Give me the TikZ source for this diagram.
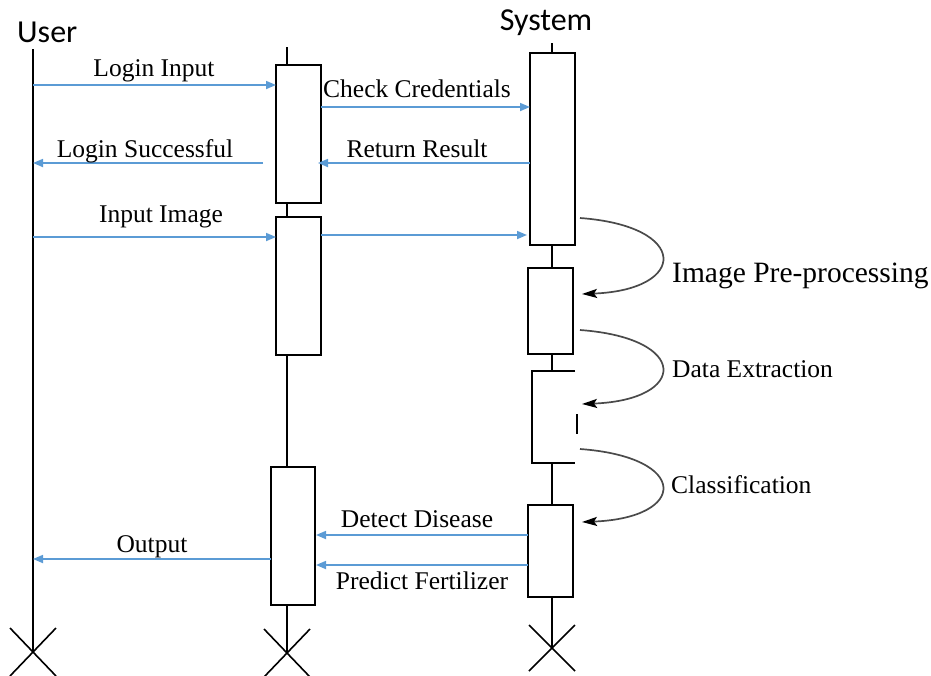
\documentclass[tikz,border=0pt]{standalone}
\usepackage{fontspec}
\setmainfont{Liberation Serif}
\newfontfamily\calibfont{Carlito}
\usetikzlibrary{arrows.meta,calc}
\definecolor{msgblue}{HTML}{5B9BD5}
\definecolor{loopgray}{HTML}{4A4A4A}
\begin{document}
\begin{tikzpicture}[x=1pt,y=-1pt,
  life/.style={black, line width=1.6pt},
  actbox/.style={draw=black, line width=1.6pt, fill=white, inner sep=0pt, outer sep=0pt, rectangle},
  msg/.style={msgblue, line width=1.7pt, -{Triangle[length=10pt,width=8pt]}},
  selfloop/.style={loopgray, line width=1.7pt, -{Stealth[length=15pt,width=9pt,inset=3pt,black]}},
  lbl/.style={font=\fontsize{25.5}{30}\selectfont, inner sep=0pt, anchor=base},
  sidelbl/.style={font=\fontsize{25.5}{30}\selectfont, inner sep=0pt, anchor=base west},
  actor/.style={font=\calibfont\fontsize{32}{38}\selectfont, inner sep=0pt},
  endx/.style={black, line width=1.6pt}
]
\useasboundingbox (0,0) rectangle (931,675);

% ---------- lifeline reference points ----------
\coordinate (utop) at (33,49);
\coordinate (uend) at (33,652);
\coordinate (mtop) at (287,47);
\coordinate (mend) at (287,653);
\coordinate (stop) at (552,43);
\coordinate (send) at (552,648);

% ---------- lifelines ----------
\draw[life] (utop) -- (uend);
\draw[life] (mtop) -- (mend);
\draw[life] (stop) -- (send);

% ---------- activation boxes ----------
\node[actbox, minimum width=45, minimum height=138] (m1) at (298.5,134) {};
\node[actbox, minimum width=45, minimum height=138] (m2) at (298.5,286) {};
\node[actbox, minimum width=44, minimum height=138] (m3) at (293,536) {};
\node[actbox, minimum width=45, minimum height=192] (s1) at (552.5,149) {};
\node[actbox, minimum width=45, minimum height=86] (s2) at (550.5,311) {};
\node[actbox, minimum width=45, minimum height=92] (s4) at (550.5,551) {};

% open bracket activation
\coordinate (s3tr) at (575,371);
\coordinate (s3tl) at (532,371);
\coordinate (s3bl) at (532,463);
\coordinate (s3br) at (575,463);
\coordinate (tickA) at (577,414);
\coordinate (tickB) at (577,434);
\fill[white] (s3tl) rectangle (s3br);
\draw[life] (s3tr) -- (s3tl) -- (s3bl) -- (s3br);
\draw[life] (tickA) -- (tickB);

% ---------- end crosses ----------
\draw[endx] ($(uend)+(-23,-24)$) -- ($(uend)+(23,24)$);
\draw[endx] ($(uend)+(-23,24)$) -- ($(uend)+(23,-24)$);
\draw[endx] ($(mend)+(-23,-24)$) -- ($(mend)+(23,24)$);
\draw[endx] ($(mend)+(-23,24)$) -- ($(mend)+(23,-24)$);
\draw[endx] ($(send)+(-23,-23)$) -- ($(send)+(23,23)$);
\draw[endx] ($(send)+(-23,23)$) -- ($(send)+(23,-23)$);

% ---------- actors ----------
\node[actor, anchor=base west] (user) at (17,42) {User};
\node[actor, anchor=base] (system) at (546,30) {System};

% ---------- message levels ----------
\coordinate (yA) at (0,85);
\coordinate (yB) at (0,107);
\coordinate (yC) at (0,163);
\coordinate (yD) at (0,237);
\coordinate (yE) at (0,235);
\coordinate (yF) at (0,535);
\coordinate (yG) at (0,565);
\coordinate (yH) at (0,559);

% ---------- messages ----------
\draw[msg] (utop |- yA) -- (m1.west |- yA);
\draw[msg] (m1.east |- yB) -- (s1.west |- yB);
\draw[msg] (s1.west |- yC) -- ([xshift=-3pt]m1.east |- yC);
\draw[msg] ([xshift=-13pt]m1.west |- yC) -- (utop |- yC);
\draw[msg] (utop |- yD) -- (m2.west |- yD);
\draw[msg] (m2.east |- yE) -- ([xshift=-3pt]s1.west |- yE);
\draw[msg] (s4.west |- yF) -- ([xshift=1pt]m3.east |- yF);
\draw[msg] (s4.west |- yG) -- ([xshift=1pt]m3.east |- yG);
\draw[msg] (m3.west |- yH) -- (utop |- yH);

% ---------- message labels ----------
\node[lbl] (tLogin) at (154,76) {Login Input};
\node[lbl] (tCheck) at (417,97) {Check Credentials};
\node[lbl] (tReturn) at (417,157) {Return Result};
\node[lbl] (tSucc) at (145,157) {Login Successful};
\node[lbl] (tImg) at (161,222) {Input Image};
\node[lbl] (tDetect) at (417,527) {Detect Disease};
\node[lbl] (tPredict) at (422,589) {Predict Fertilizer};
\node[lbl] (tOut) at (152,552) {Output};

% ---------- self calls ----------
\coordinate (c1a) at (580,218);
\coordinate (c1b) at (582,294);
\coordinate (c2a) at (580,330);
\coordinate (c2b) at (582,404);
\coordinate (c3a) at (580,449);
\coordinate (c3b) at (582,522);
\draw[selfloop] (c1a) .. controls (690,226) and (688,290) .. (c1b);
\draw[selfloop] (c2a) .. controls (690,338) and (688,400) .. (c2b);
\draw[selfloop] (c3a) .. controls (690,457) and (688,518) .. (c3b);

\node[sidelbl, font=\fontsize{29.5}{34}\selectfont] (tPre) at (672,282) {Image Pre-processing};
\node[sidelbl] (tData) at (672,377) {Data Extraction};
\node[sidelbl] (tClass) at (671,493) {Classification};
\end{tikzpicture}
\end{document}
